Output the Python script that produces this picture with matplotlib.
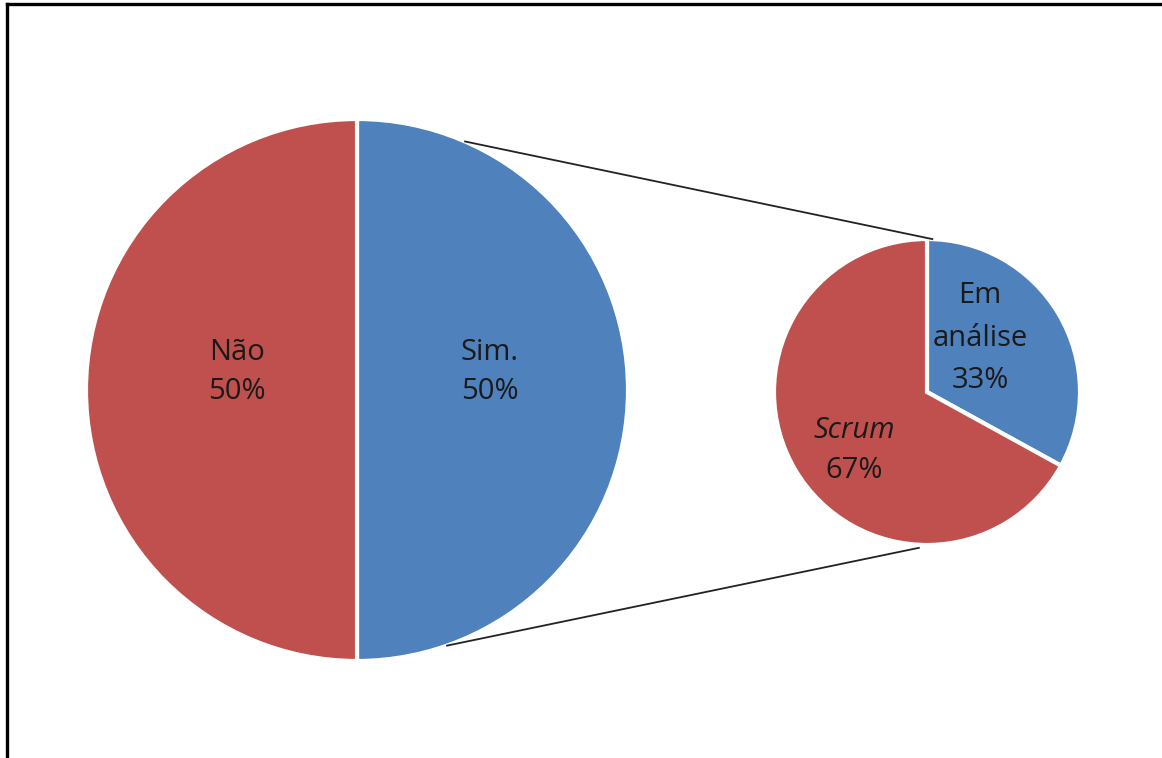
import matplotlib.pyplot as plt
import numpy as np

plt.rcParams['font.family'] = ['Open Sans', 'DejaVu Sans']

# dados
main_labels = ['Sim.', 'Não']
main_values = [50, 50]
sub_labels = ['Em\nanálise', 'Scrum']
sub_values = [33, 67]

azul = '#4F81BD'
vermelho = '#C0504D'

W, H = 1162, 758
fig = plt.figure(figsize=(W / 100, H / 100), dpi=100)
ax = fig.add_axes([0, 0, 1, 1])

# pizza principal e pizza secundária (coordenadas em pixels, y para cima)
c1, r1 = (357, 368), 271
c2, r2 = (927, 366), 153

ax.pie(main_values, colors=[azul, vermelho], startangle=90, counterclock=False,
       center=c1, radius=r1, wedgeprops=dict(edgecolor='white', linewidth=3))
ax.pie(sub_values, colors=[azul, vermelho], startangle=90, counterclock=False,
       center=c2, radius=r2, wedgeprops=dict(edgecolor='white', linewidth=3))

# linhas de ligação
a1_top, a1_bot = np.radians(66.5), np.radians(-70.6)
a2_top, a2_bot = np.radians(88), np.radians(-93)
for a1, a2, k in [(a1_top, a2_top, 1.0), (a1_bot, a2_bot, 1.02)]:
    x = [c1[0] + r1 * np.cos(a1), c2[0] + r2 * k * np.cos(a2)]
    y = [c1[1] + r1 * np.sin(a1), c2[1] + r2 * k * np.sin(a2)]
    ax.plot(x, y, color='#222222', lw=1.3)

# rótulos
fs = 21
cor = '#1a1a1a'
ax.text(237, H - 372, f'{main_labels[1]}\n{main_values[1]}%', ha='center', va='center',
        fontsize=fs, color=cor, linespacing=1.45)
ax.text(490, H - 372, f'{main_labels[0]}\n{main_values[0]}%', ha='center', va='center',
        fontsize=fs, color=cor, linespacing=1.45)
ax.text(980, H - 338, f'{sub_labels[0]}\n{sub_values[0]}%', ha='center', va='center',
        fontsize=fs, color=cor, linespacing=1.6)
ax.text(854, H - 430, sub_labels[1], ha='center', va='center',
        fontsize=fs, color=cor, style='italic')
ax.text(854, H - 470, f'{sub_values[1]}%', ha='center', va='center',
        fontsize=fs, color=cor)

# moldura (só esquerda e topo visíveis)
ax.plot([6.5, 6.5], [0, H - 4], color='black', lw=2.4, solid_capstyle='projecting')
ax.plot([6.5, W], [H - 4, H - 4], color='black', lw=2.4, solid_capstyle='projecting')

ax.set_xlim(0, W)
ax.set_ylim(0, H)
ax.set_aspect('auto')
ax.axis('off')

plt.savefig('out.png', dpi=100)
